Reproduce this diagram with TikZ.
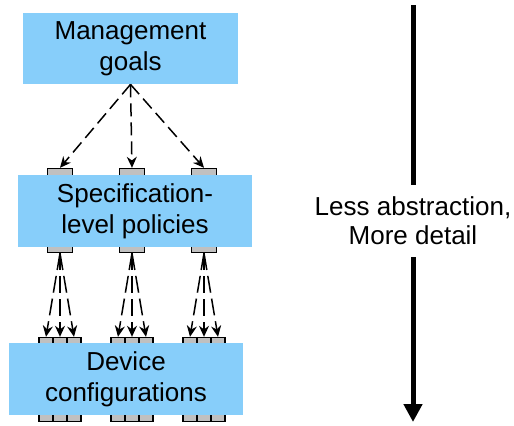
\documentclass[tikz,border=0pt]{standalone}
\usepackage{fontspec}
\setmainfont{Liberation Sans}
\usetikzlibrary{arrows.meta}
\definecolor{layerblue}{RGB}{135,206,250}
\definecolor{portgray}{RGB}{192,192,192}
\tikzset{
	layer/.style = {fill=layerblue, minimum width=117pt, minimum height=36pt, align=center, inner sep=0pt,
		font=\fontsize{13}{15.5}\selectfont},
	port/.style args = {#1}{draw=black, fill=portgray, line width=0.7pt, minimum width=#1, minimum height=42pt, inner sep=0pt},
	port/.default = 12.5pt,
	link/.style args = {#1}{dashed, dash pattern=on #1 off 3pt, line width=0.75pt, -{Stealth[length=5.5pt,width=5pt]}},
	link/.default = 6.5pt,
}

\begin{document}
\begin{tikzpicture}[x=0.5pt,y=-0.5pt]
				\useasboundingbox (0,0) rectangle (514,425);
				\foreach \g/\gx in {1/60,2/132,3/204} {
					\node[port] (s\g) at (\gx,210.5) {};
					\foreach \d/\dx in {1/-14,2/0,3/14} {
						\node[port=7pt] (d\g\d) at (\gx+\dx,379.5) {};
					}
				}
				\node[layer, minimum width=107.5pt, minimum height=35.5pt] (mgmt) at (130.5,48.5) {Management\\goals};
				\node[layer] (spec) at (135,211) {Specification-\\level policies};
				\node[layer] (dev) at (126,379) {Device\\configurations};
				\foreach \g in {1,2,3} {
					\draw[link] (mgmt.south) -- (s\g.north);
					\foreach \d in {1,2,3} {
						\draw[link=8.5pt] (s\g.south) -- (d\g\d.north);
					}
				}
				% abstraction axis
				\coordinate (top) at (413,5);
				\coordinate (bottom) at (413,422);
				\node[align=center, inner xsep=0pt, inner ysep=6pt, font=\fontsize{13}{14.5}\selectfont] (note) at (413,221) {Less abstraction,\\More detail};
				\draw[line width=2.5pt] (top) -- (note.north);
				\draw[line width=2.5pt, -{Triangle[length=9pt,width=9pt]}] (note.south) -- (bottom);
			\end{tikzpicture}
\end{document}
